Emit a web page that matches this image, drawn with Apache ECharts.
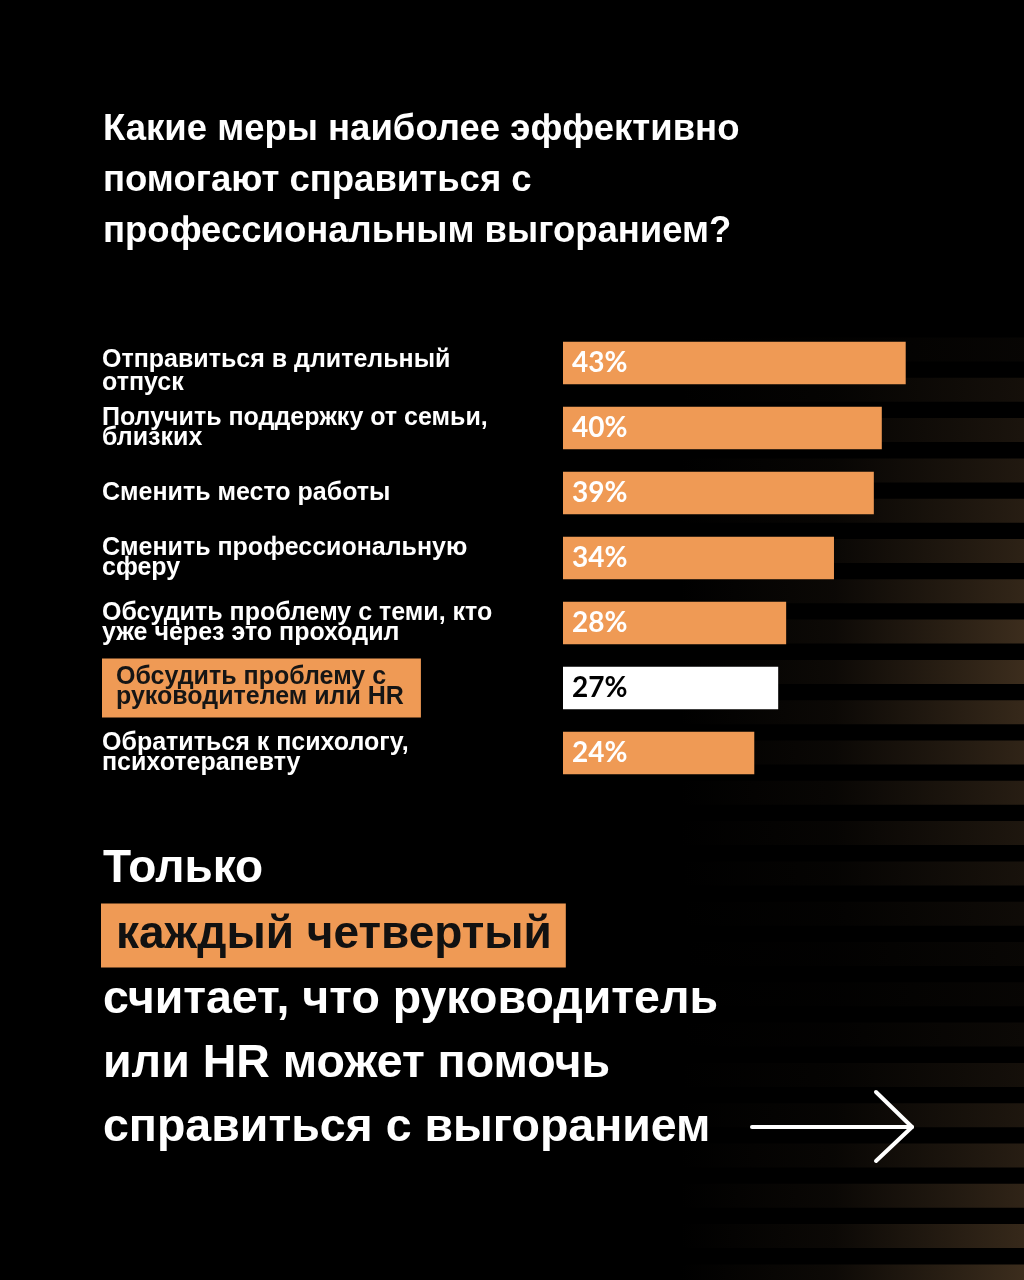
<!DOCTYPE html>
<html>
<head>
<meta charset="utf-8">
<script src="https://cdn.jsdelivr.net/npm/echarts@6/dist/echarts.min.js"></script>
<style>html,body{margin:0;padding:0;background:#000;}#c{width:1024px;height:1280px;}</style>
</head>
<body>
<div id="c"></div>
<script>
// ---- data ----
const categories = [
  'Отправиться в длительный\nотпуск',
  'Получить поддержку от семьи,\nблизких',
  'Сменить место работы',
  'Сменить профессиональную\nсферу',
  'Обсудить проблему с теми, кто\nуже через это проходил',
  'Обсудить проблему с\nруководителем или HR',
  'Обратиться к психологу,\nпсихотерапевту'
];
const values = [43, 40, 39, 34, 28, 27, 24];
const highlightIndex = 5;
const titleLines = [
  'Какие меры наиболее эффективно',
  'помогают справиться с',
  'профессиональным выгоранием?'
];
const footerLead = 'Только';
const footerHighlight = 'каждый четвертый';
const footerLines = [
  'считает, что руководитель',
  'или HR может помочь',
  'справиться с выгоранием'
];

// ---- styles ----
const ORANGE = '#EF9A55';
const SANS = '"Liberation Sans", Arial, sans-serif';
const NUM = 'Lato, "Open Sans", sans-serif';

// decorative background stripes (style only)
const stripeAlpha = [0.12,0.35,0.45,0.55,0.65,0.75,0.85,1,1,0.9,0.8,0.65,0.5,0.4,0.25,0.15,0.12,0.2,0.35,0.5,0.65,0.8,0.9,1];
const graphics = [];
stripeAlpha.forEach((a, k) => {
  const y = 337.5 + k * 40.3;
  graphics.push({
    type: 'rect', z: -10, silent: true,
    shape: { x: 680, y: y, width: 344, height: 24 },
    style: {
      fill: new echarts.graphic.LinearGradient(0, 0, 1, 0, [
        { offset: 0, color: 'rgba(60,45,29,0)' },
        { offset: 0.45, color: 'rgba(60,45,29,' + (0.22 * a).toFixed(3) + ')' },
        { offset: 1, color: 'rgba(60,45,29,' + a.toFixed(3) + ')' }
      ])
    }
  });
});

titleLines.forEach((t, i) => {
  graphics.push({
    type: 'text', z: 5, x: 103, y: 130 + i * 51,
    style: { text: t, fill: '#fff', font: 'bold 36.5px ' + SANS, textVerticalAlign: 'middle', textAlign: 'left' }
  });
});

graphics.push({
  type: 'text', z: 5, x: 103, y: 869,
  style: { text: footerLead, fill: '#fff', font: 'bold 46px ' + SANS, textVerticalAlign: 'middle' }
});
graphics.push({
  type: 'text', z: 5, x: 101, y: 935.5,
  style: {
    text: footerHighlight, fill: '#111', font: 'bold 46px ' + SANS, textVerticalAlign: 'middle',
    backgroundColor: ORANGE, padding: [9, 14, 9, 15]
  }
});
footerLines.forEach((t, i) => {
  graphics.push({
    type: 'text', z: 5, x: 103, y: 1000 + i * 64,
    style: { text: t, fill: '#fff', font: 'bold 46.5px ' + SANS, textVerticalAlign: 'middle' }
  });
});
// arrow
graphics.push({
  type: 'polyline', z: 5, shape: { points: [[752, 1127], [912, 1127]] },
  style: { stroke: '#fff', lineWidth: 4, lineCap: 'round' }
});
graphics.push({
  type: 'polyline', z: 5, shape: { points: [[876, 1092], [912, 1127], [876, 1161]] },
  style: { stroke: '#fff', lineWidth: 4, lineCap: 'round', lineJoin: 'round', fill: null }
});

const yData = categories.map((c, i) => {
  if (i === highlightIndex) {
    return { value: c, textStyle: { align: 'left', backgroundColor: ORANGE, color: '#151515', padding: [9, 17, 10, 14] } };
  }
  return c;
});

const barData = values.map((v, i) => ({
  value: v,
  itemStyle: { color: i === highlightIndex ? '#ffffff' : ORANGE },
  label: { color: i === highlightIndex ? '#000' : '#fff' }
}));

const chart = echarts.init(document.getElementById('c'), null, { renderer: 'canvas' });
chart.setOption({
  backgroundColor: '#000',
  animation: false,
  grid: { left: 563, top: 330.5, width: 398.5, height: 455, containLabel: false, outerBoundsMode: 'none' },
  xAxis: {
    type: 'value', min: 0, max: 50, show: false
  },
  yAxis: {
    type: 'category', inverse: true, data: yData,
    axisLine: { show: false }, axisTick: { show: false }, splitLine: { show: false },
    axisLabel: {
      align: 'left', margin: 461, color: '#fff', fontSize: 25, fontWeight: 'bold',
      fontFamily: SANS, lineHeight: 20,
      formatter: function (value, index) {
        if (index === 0) {
          const parts = value.split('\n');
          return '{first|' + parts[0] + '}\n{rest|' + parts[1] + '}';
        }
        return value;
      },
      rich: {
        first: { color: '#fff', fontSize: 25, fontWeight: 'bold', fontFamily: SANS, lineHeight: 40, verticalAlign: 'bottom' },
        rest: { color: '#fff', fontSize: 25, fontWeight: 'bold', fontFamily: SANS, lineHeight: 20 }
      }
    }
  },
  series: [{
    type: 'bar', data: barData, barWidth: 42.5,
    label: {
      show: true, position: 'insideLeft', distance: 9, formatter: '{c}%',
      fontFamily: NUM, fontWeight: 'bold', fontSize: 28
    }
  }],
  graphic: graphics
});
</script>
</body>
</html>
